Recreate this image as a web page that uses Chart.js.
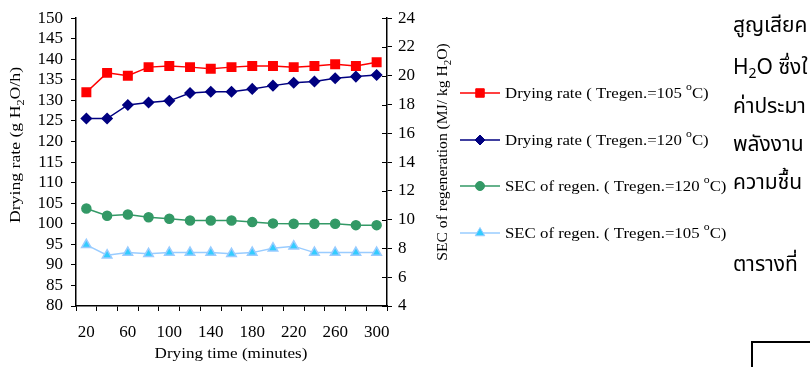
<!DOCTYPE html>
<html lang="th">
<head>
<meta charset="UTF-8">
<title>Drying rate and SEC of regeneration</title>
<script src="https://cdn.jsdelivr.net/npm/chart.js"></script>
<style>
  html, body { margin: 0; padding: 0; background: #fff; overflow: hidden; }
  #wrap { position: relative; width: 810px; height: 367px; overflow: hidden; }
  #dryChart { position: absolute; left: 0; top: 0; }
  .th {
    position: absolute;
    left: 733px;
    font-family: 'Noto Sans Thai', 'Noto Sans', 'Liberation Sans', Arial, sans-serif;
    font-size: 21px;
    line-height: 1;
    white-space: nowrap;
    color: #000;
  }
  .th sub { font-size: 14px; vertical-align: -4px; line-height: 0; }
  .frame {
    position: absolute; left: 751px; top: 341px;
    width: 100px; height: 60px; border: 2px solid #000;
  }
</style>
</head>
<body>
<div id="wrap">
  <canvas id="dryChart" width="810" height="367"></canvas>
  <div class="th" style="top:15px">สูญเสียค</div>
  <div class="th" style="top:57px">H<sub>2</sub>O ซึ่งใ</div>
  <div class="th" style="top:96px">ค่าประมา</div>
  <div class="th" style="top:134px">พลังงาน</div>
  <div class="th" style="top:172px">ความชื้น</div>
  <div class="th" style="top:254px">ตารางที่</div>
  <div class="frame"></div>
</div>

<script>
// values
const dryingTime = [20, 40, 60, 80, 100, 120, 140, 160, 180, 200, 220, 240, 260, 280, 300];
const timeTickLabels = [20, 60, 100, 140, 180, 220, 260, 300];

const rate105 = [132.0, 136.7, 136.0, 138.1, 138.4, 138.1, 137.7, 138.1, 138.4, 138.4, 138.1, 138.4, 138.8, 138.4, 139.3];
const rate120 = [125.6, 125.6, 128.9, 129.5, 129.9, 131.8, 132.1, 132.1, 132.8, 133.6, 134.3, 134.6, 135.4, 135.8, 136.2];
const sec120 = [10.77, 10.27, 10.36, 10.17, 10.06, 9.94, 9.94, 9.94, 9.83, 9.74, 9.71, 9.71, 9.71, 9.62, 9.62];
const sec105 = [8.25, 7.53, 7.71, 7.63, 7.71, 7.71, 7.71, 7.63, 7.71, 8.02, 8.16, 7.71, 7.71, 7.71, 7.71];

const legendNames = [
    ['Drying rate ( Tregen.=105', 'C)'],
    ['Drying rate ( Tregen.=120', 'C)'],
    ['SEC of regen. ( Tregen.=120', 'C)'],
    ['SEC of regen. ( Tregen.=105', 'C)']
];

const serif = "'Times New Roman', 'Liberation Serif', serif";

// draws text pieces (some sub/superscript), stretched sideways by sx like the original
function drawRich(ctx, parts, x, y, size, align, sx) {
    let total = 0;
    parts.forEach(p => {
        ctx.font = (p.sub || p.sup ? size * 0.7 : size) + 'px ' + serif;
        p.w = ctx.measureText(p.t).width;
        total += p.w;
    });
    ctx.save();
    ctx.translate(x, y);
    ctx.scale(sx || 1, 1);
    let cx = align === 'center' ? -total / 2 : 0;
    ctx.textBaseline = 'alphabetic';
    ctx.textAlign = 'left';
    parts.forEach(p => {
        ctx.font = (p.sub || p.sup ? size * 0.7 : size) + 'px ' + serif;
        let dy = p.sub ? size * 0.25 : (p.sup ? -size * 0.55 : 0);
        ctx.fillText(p.t, cx, dy);
        cx += p.w;
    });
    ctx.restore();
}

const legendY = [93, 140, 186, 233];

const extrasPlugin = {
    id: 'extras',
    afterDraw(chart) {
        const ctx = chart.ctx;
        ctx.save();
        ctx.fillStyle = '#000';

        // axis titles
        drawRich(ctx, [{ t: 'Drying time (minutes)' }], 231, 358, 15, 'center', 1.14);

        ctx.save();
        ctx.translate(20, 145);
        ctx.rotate(-Math.PI / 2);
        drawRich(ctx, [{ t: 'Drying rate (g H' }, { t: '2', sub: true }, { t: 'O/h)' }], 0, 0, 15, 'center', 1.18);
        ctx.restore();

        ctx.save();
        ctx.translate(447, 152);
        ctx.rotate(-Math.PI / 2);
        drawRich(ctx, [{ t: 'SEC of regeneration (MJ/ kg H' }, { t: '2', sub: true }, { t: 'O)' }], 0, 0, 15, 'center', 1.04);
        ctx.restore();

        // right axis ticks also poke into the plot
        const y1 = chart.scales.y1;
        ctx.strokeStyle = '#000';
        ctx.lineWidth = 1;
        y1.ticks.forEach((t, i) => {
            const py = Math.round(y1.getPixelForTick(i)) + 0.5;
            ctx.beginPath();
            ctx.moveTo(y1.left - 5, py);
            ctx.lineTo(y1.left, py);
            ctx.stroke();
        });

        // legend
        chart.data.datasets.forEach((ds, i) => {
            const y = legendY[i];
            ctx.strokeStyle = ds.borderColor;
            ctx.lineWidth = ds.borderWidth;
            ctx.beginPath();
            ctx.moveTo(460, y);
            ctx.lineTo(500, y);
            ctx.stroke();
            ctx.fillStyle = ds.pointBackgroundColor;
            ctx.strokeStyle = ds.pointBorderColor;
            ctx.lineWidth = 1;
            Chart.helpers.drawPoint(ctx, { pointStyle: ds.pointStyle, radius: ds.pointRadius, rotation: 0, borderWidth: 1 }, 480, y);
            ctx.fillStyle = '#000';
            const parts = legendNames[i];
            drawRich(ctx, [{ t: parts[0] + ' ' }, { t: 'o', sup: true }, { t: parts[1] }], 505, y + 5, 15, 'left', 1.12);
        });
        ctx.restore();
    }
};

const axisGrid = {
    display: true,
    drawOnChartArea: false,
    drawTicks: true,
    tickLength: 5,
    color: '#000',
    lineWidth: 1
};

new Chart(document.getElementById('dryChart'), {
    type: 'line',
    data: {
        labels: dryingTime,
        datasets: [
            {
                label: 'Drying rate ( Tregen.=105 °C)',
                data: rate105,
                yAxisID: 'y',
                borderColor: '#FF0000',
                borderWidth: 1.5,
                pointStyle: 'rect',
                pointRadius: 6,
                pointBackgroundColor: '#FF0000',
                pointBorderColor: '#FF0000'
            },
            {
                label: 'Drying rate ( Tregen.=120 °C)',
                data: rate120,
                yAxisID: 'y',
                borderColor: '#000080',
                borderWidth: 1.5,
                pointStyle: 'rectRot',
                pointRadius: 5,
                pointBackgroundColor: '#000080',
                pointBorderColor: '#000080'
            },
            {
                label: 'SEC of regen. ( Tregen.=120 °C)',
                data: sec120,
                yAxisID: 'y1',
                borderColor: '#339966',
                borderWidth: 1.5,
                pointStyle: 'circle',
                pointRadius: 4.5,
                pointBackgroundColor: '#339966',
                pointBorderColor: '#339966'
            },
            {
                label: 'SEC of regen. ( Tregen.=105 °C)',
                data: sec105,
                yAxisID: 'y1',
                borderColor: '#99CCFF',
                borderWidth: 1.5,
                pointStyle: 'triangle',
                pointRadius: 5.5,
                pointBackgroundColor: '#33CCFF',
                pointBorderColor: '#99CCFF'
            }
        ]
    },
    options: {
        responsive: false,
        animation: false,
        layout: { padding: { top: 15, right: 363, left: 0, bottom: 0 } },
        elements: { line: { tension: 0 }, point: { borderWidth: 1, hoverRadius: 5 } },
        plugins: {
            legend: { display: false },
            tooltip: { enabled: false }
        },
        scales: {
            x: {
                type: 'category',
                offset: true,
                grid: Object.assign({}, axisGrid, { offset: true }),
                border: { display: true, color: '#000', width: 1.5 },
                ticks: {
                    autoSkip: false,
                    maxRotation: 0,
                    color: '#000',
                    padding: 11,
                    font: { family: serif, size: 17 },
                    callback: function (value) {
                        const lbl = this.getLabelForValue(value);
                        return timeTickLabels.includes(lbl) ? String(lbl) : '';
                    }
                },
                afterFit(scale) { scale.height = 61; }
            },
            y: {
                position: 'left',
                min: 80,
                max: 150,
                grid: axisGrid,
                border: { display: true, color: '#000', width: 1.5 },
                ticks: { stepSize: 5, autoSkip: false, color: '#000', padding: 8, font: { family: serif, size: 17 } },
                afterFit(scale) { scale.width = 76; }
            },
            y1: {
                position: 'right',
                min: 4,
                max: 24,
                grid: axisGrid,
                border: { display: true, color: '#000', width: 1.5 },
                ticks: { stepSize: 2, autoSkip: false, color: '#000', padding: 6, font: { family: serif, size: 17 } },
                afterFit(scale) { scale.width = 60; }
            }
        }
    },
    plugins: [extrasPlugin]
});
</script>
</body>
</html>
